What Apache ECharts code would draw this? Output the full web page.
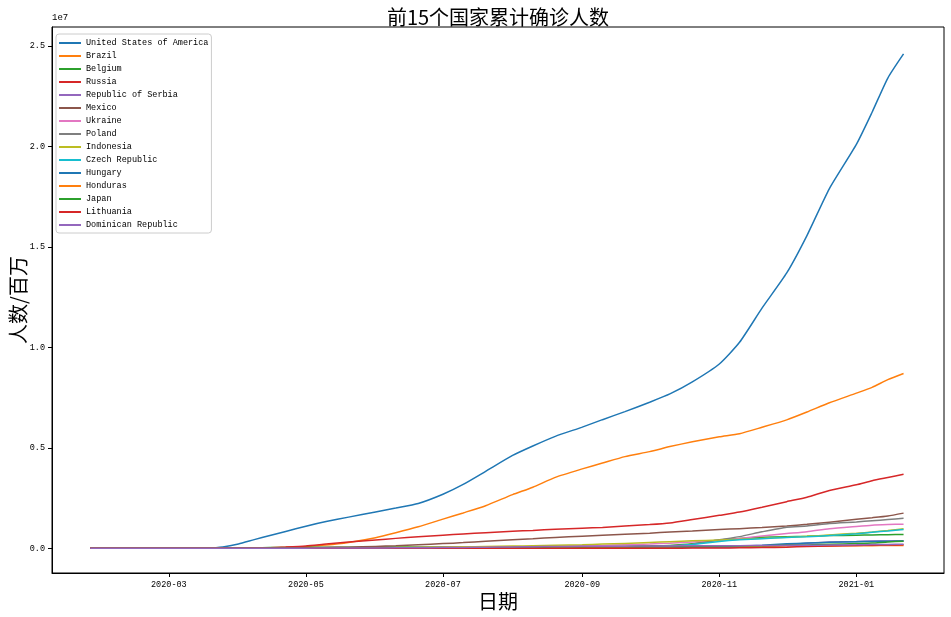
<!DOCTYPE html>
<html>
<head>
<meta charset="utf-8">
<script src="https://cdn.jsdelivr.net/npm/echarts@6/dist/echarts.min.js"></script>
<style>
  html, body { margin: 0; padding: 0; background: #fff; }
  #main { width: 951px; height: 617px; }
</style>
</head>
<body>
<div id="main"></div>
<script>
// 日期 (采样点)
var dates = ['2020-01-26','2020-02-15','2020-03-01','2020-03-10','2020-03-18','2020-03-25','2020-04-01','2020-04-08',
  '2020-04-15','2020-04-22','2020-05-01','2020-05-10','2020-05-20','2020-06-01','2020-06-10','2020-06-20',
  '2020-07-01','2020-07-10','2020-07-20','2020-08-01','2020-08-10','2020-08-20','2020-09-01','2020-09-10',
  '2020-09-20','2020-10-01','2020-10-10','2020-10-20','2020-11-01','2020-11-10','2020-11-20','2020-12-01',
  '2020-12-10','2020-12-20','2021-01-01','2021-01-08','2021-01-15','2021-01-22'];

// 各国累计确诊 (千人)
var usa       = [0.005,0.015,0.03,1,9,65,214,430,636,840,1100,1330,1550,1810,2000,2230,2690,3180,3830,4620,5090,5570,6030,6400,6800,7270,7680,8280,9170,10250,11950,13700,15560,17900,20100,21700,23400,24600];
var brazil    = [0,0,0.002,0.03,0.4,2.4,6.8,16,28,46,92,163,293,527,773,1070,1450,1760,2120,2670,3040,3530,3950,4240,4560,4810,5060,5300,5550,5700,6020,6390,6780,7240,7720,8010,8390,8700];
var belgium   = [0,0,0,0.3,1.8,4.9,13,23,33,42,49,53,56,58.6,59.6,60.6,61.8,63,64,69.4,74,80,86,90,101,119,142,222,412,489,547,578,600,630,649,663,677,691];
var russia    = [0,0,0,0.01,0.15,0.66,2.8,8.7,24,58,114,210,308,415,493,577,654,713,777,843,890,946,1000,1040,1110,1180,1260,1430,1640,1800,2040,2320,2540,2880,3160,3360,3520,3680];
var serbia    = [0,0,0,0,0.08,0.4,0.9,2.4,4.9,7.1,9,10.2,11,11.4,11.9,12.9,14.8,17.3,21.3,25,28,30,31.4,32.5,33,33.8,35,37,40,52,90,186,250,309,337,357,368,380];
var mexico    = [0,0,0,0.007,0.12,0.4,1.2,3.1,5.4,10.5,20,36,56,93,125,175,232,282,349,424,475,537,600,650,700,748,815,860,929,978,1030,1110,1190,1300,1440,1520,1610,1750];
var ukraine   = [0,0,0,0.001,0.02,0.1,0.8,2,3.8,6.6,10.4,15,19,24,28,36,45,53,63,73,85,103,125,142,176,213,254,316,396,483,613,733,828,976,1090,1150,1180,1200];
var poland    = [0,0,0,0.02,0.3,1,2.5,5,7.6,10,12.9,16,19.3,24,28,32,34.8,37,41,46.3,52,60,68,72,80,93,120,200,420,580,820,1050,1110,1230,1310,1370,1430,1490];
var indonesia = [0,0,0,0,0.2,0.8,1.7,3,5.1,7.4,10.5,14,19,27,35,45,57,71,87,109,127,147,177,207,244,292,328,369,412,448,493,544,593,664,751,808,882,977];
var czech     = [0,0,0,0.04,0.6,1.9,3.3,5.3,6.3,7.1,7.7,8,8.6,9.2,9.8,10.5,11.9,12.8,14.3,16.3,17.5,20,25,36,53,70,102,193,340,420,480,540,575,630,718,800,860,931];
var hungary   = [0,0,0,0.01,0.06,0.3,0.6,1,1.6,2.1,2.8,3.2,3.6,3.9,4,4.1,4.2,4.2,4.3,4.5,4.6,4.9,6.5,9.5,19,27,39,55,81,105,150,222,260,300,329,341,351,359];
var honduras  = [0,0,0,0,0.01,0.05,0.2,0.3,0.4,0.5,0.8,1.5,3,5.1,7,11,19,25,33,43,47,52,56,63,70,75,80,88,96,100,104,108,111,116,124,130,136,142];
var japan     = [0,0.05,0.25,0.6,0.9,1.3,2.2,4.7,8.6,11.5,14,15.6,16.4,16.8,17.2,17.8,18.9,21,26,35,45,60,69,73,79,84,88,94,101,112,130,150,168,200,236,260,318,356];
var lithuania = [0,0,0,0,0.03,0.2,0.5,0.9,1.1,1.3,1.4,1.5,1.6,1.7,1.7,1.8,1.8,1.9,2,2.1,2.3,2.6,2.9,3.3,4,5,6.5,9,14,21,34,57,84,117,143,155,164,172];
var dominican = [0,0,0,0,0.03,0.5,1.1,2.3,3.6,5,7.6,10.6,14,17,21,27,33,39,52,69,78,88,95,99,107,114,118,122,125,129,136,144,151,161,171,183,193,203];

var names = ['United States of America','Brazil','Belgium','Russia','Republic of Serbia','Mexico','Ukraine',
  'Poland','Indonesia','Czech Republic','Hungary','Honduras','Japan','Lithuania','Dominican Republic'];
var values = [usa,brazil,belgium,russia,serbia,mexico,ukraine,poland,indonesia,czech,hungary,honduras,japan,lithuania,dominican];

// 刻度
var yTicks = [0, 5000000, 10000000, 15000000, 20000000, 25000000];
var xTicks = ['2020-03-01','2020-05-01','2020-07-01','2020-09-01','2020-11-01','2021-01-01'];

var colors = ['#1f77b4','#ff7f0e','#2ca02c','#d62728','#9467bd','#8c564b','#e377c2','#7f7f7f','#bcbd22','#17becf'];
var monoFont = 'Liberation Mono';
var cjkFont = 'Noto Sans CJK SC';

function toTime(s) {
    var p = s.split('-');
    return Date.UTC(+p[0], +p[1] - 1, +p[2]);
}
function pad(n) { return n < 10 ? '0' + n : '' + n; }

var series = names.map(function (name, k) {
    return {
        name: name,
        type: 'line',
        symbol: 'none',
        showSymbol: false,
        smooth: 0.2,
        animation: false,
        color: colors[k % 10],
        lineStyle: { width: 1.5, color: colors[k % 10] },
        data: dates.map(function (d, i) { return [toTime(d), values[k][i] * 1000]; })
    };
});

var myChart = echarts.init(document.getElementById('main'));
var option = {
    animation: false,
    backgroundColor: '#fff',
    grid: {
        left: 52, right: 7, top: 27, bottom: 44,
        containLabel: false,
        outerBoundsMode: 'none',
        show: true, borderColor: '#000', borderWidth: 1
    },
    graphic: [
        { type: 'text', x: 498, y: 17, style: { text: '前15个国家累计确诊人数', fill: '#000',
            font: '20px "' + cjkFont + '"', align: 'center', verticalAlign: 'middle' } },
        { type: 'text', x: 52, y: 18, style: { text: '1e7', fill: '#000',
            font: '9px "' + monoFont + '"', align: 'left', verticalAlign: 'middle' } }
    ],
    legend: {
        orient: 'vertical',
        left: 56, top: 34,
        icon: 'rect',
        itemWidth: 22, itemHeight: 2, itemGap: 3,
        padding: [4, 3, 3, 3],
        borderColor: '#cccccc', borderWidth: 1, borderRadius: 3,
        backgroundColor: 'rgba(255,255,255,0.8)',
        textStyle: { fontFamily: monoFont, fontSize: 8.5, color: '#000', lineHeight: 10 },
        data: names
    },
    xAxis: {
        type: 'value',
        scale: true,
        min: toTime('2020-01-09'),
        max: toTime('2021-02-09'),
        name: '日期',
        nameLocation: 'middle',
        nameGap: 18,
        nameMoveOverlap: false,
        nameTextStyle: { fontFamily: cjkFont, fontSize: 20, color: '#000' },
        splitLine: { show: false },
        axisLine: { onZero: false, lineStyle: { color: '#000', width: 1 } },
        axisTick: { show: true, length: 4, lineStyle: { color: '#000' }, customValues: xTicks.map(toTime) },
        axisLabel: {
            fontFamily: monoFont, fontSize: 8.5, color: '#000', margin: 7,
            customValues: xTicks.map(toTime),
            formatter: function (v) { var d = new Date(v); return d.getUTCFullYear() + '-' + pad(d.getUTCMonth() + 1); }
        }
    },
    yAxis: {
        type: 'value',
        min: -1230000,
        max: 25940000,
        name: '人数/百万',
        nameLocation: 'middle',
        nameGap: 24,
        nameMoveOverlap: false,
        nameTextStyle: { fontFamily: cjkFont, fontSize: 20, color: '#000' },
        splitLine: { show: false },
        axisLine: { show: true, onZero: false, lineStyle: { color: '#000', width: 1 } },
        axisTick: { show: true, length: 4, lineStyle: { color: '#000' }, customValues: yTicks },
        axisLabel: {
            fontFamily: monoFont, fontSize: 8.5, color: '#000', margin: 7,
            customValues: yTicks,
            formatter: function (v) { return (v / 1e7).toFixed(1); }
        }
    },
    series: series
};
myChart.setOption(option);
</script>
</body>
</html>
